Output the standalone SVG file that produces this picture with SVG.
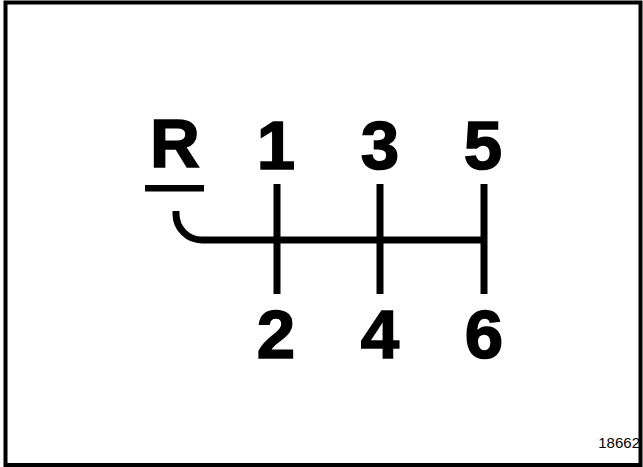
<svg xmlns="http://www.w3.org/2000/svg" width="643" height="467" viewBox="0 0 643 467">
<style>
.lbl{font-family:"Liberation Sans",Arial,sans-serif;font-weight:bold;font-size:69px;fill:#000;stroke:#000;stroke-width:1.6;text-anchor:middle}
.gate{stroke:#000;stroke-width:7;fill:none}
</style>
<rect x="0" y="0" width="643" height="467" fill="#fff"/>
<rect id="frame" x="5.5" y="2.5" width="635" height="462.5" fill="none" stroke="#000" stroke-width="4"/>
<g id="connectors">
<path class="gate" d="M176,211 L176,214 A26,26 0 0 0 202,240 L484,240"/>
<line class="gate" x1="277" y1="184" x2="277" y2="294"/>
<line class="gate" x1="380" y1="184" x2="380" y2="294"/>
<line class="gate" x1="484" y1="184" x2="484" y2="294"/>
</g>
<g id="gear-R"><text class="lbl" x="175" y="167">R</text><rect x="145" y="185" width="59" height="6.5" fill="#000"/></g>
<g id="gear-1"><text class="lbl" x="276" y="169">1</text></g>
<g id="gear-3"><text class="lbl" x="380" y="169">3</text></g>
<g id="gear-5"><text class="lbl" x="483" y="169">5</text></g>
<g id="gear-2"><text class="lbl" x="276" y="358">2</text></g>
<g id="gear-4"><text class="lbl" x="380" y="358">4</text></g>
<g id="gear-6"><text class="lbl" x="484" y="358">6</text></g>
<text id="ref" x="640" y="448" font-family="'Liberation Sans',Arial,sans-serif" font-size="15" text-anchor="end" fill="#000">18662</text>
</svg>
